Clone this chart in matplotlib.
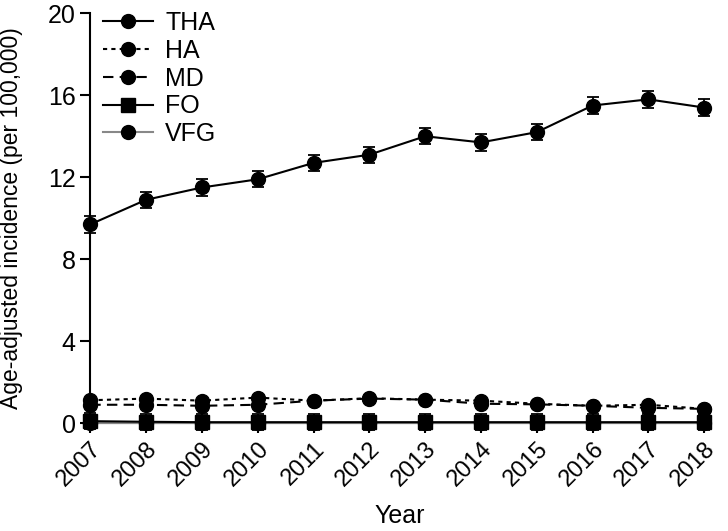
import matplotlib.pyplot as plt
from matplotlib.lines import Line2D
import numpy as np

plt.rcParams['font.family'] = ['Liberation Sans', 'DejaVu Sans']

years = [2007, 2008, 2009, 2010, 2011, 2012, 2013, 2014, 2015, 2016, 2017, 2018]
tha = [9.7, 10.9, 11.5, 11.9, 12.7, 13.1, 14.0, 13.7, 14.2, 15.5, 15.8, 15.4]
tha_err = [0.4, 0.4, 0.4, 0.4, 0.4, 0.4, 0.4, 0.4, 0.4, 0.4, 0.4, 0.4]
ha = [1.12, 1.2, 1.1, 1.25, 1.1, 1.22, 1.15, 1.1, 0.95, 0.85, 0.9, 0.7]
ha_err = [0.1] * 12
md = [0.9, 0.9, 0.85, 0.9, 1.1, 1.2, 1.15, 0.95, 0.92, 0.85, 0.75, 0.7]
md_err = [0.1] * 12
fo = [0.1, 0.07, 0.05, 0.05, 0.05, 0.05, 0.05, 0.05, 0.05, 0.05, 0.05, 0.05]
fo_err = [0.4] * 12
vfg = [0.02, 0.02, 0.02, 0.02, 0.02, 0.02, 0.02, 0.02, 0.02, 0.02, 0.02, 0.02]
vfg_err = [0.02] * 12

fig = plt.figure(figsize=(7.28, 5.31), dpi=100)
ax = fig.add_axes([0.124, 0.203, 0.851, 0.772])

common = dict(markersize=10, capsize=4, elinewidth=1.3, capthick=1.3, clip_on=False)
ax.errorbar(years, vfg, yerr=vfg_err, color='#888888', mfc='black', mec='black',
            ecolor='black', marker='o', linestyle='-', linewidth=1.5, zorder=3, **common)
ax.errorbar(years, fo, yerr=fo_err, color='black', marker='s', linestyle='-',
            linewidth=1.5, zorder=4, **common)
ax.errorbar(years, md, yerr=md_err, color='black', marker='o', linestyle=(0, (5, 3)),
            linewidth=1.5, zorder=4, **common)
ax.errorbar(years, ha, yerr=ha_err, color='black', marker='o', linestyle=(0, (2, 2)),
            linewidth=1.5, zorder=4, **common)
ax.errorbar(years, tha, yerr=tha_err, color='black', marker='o', linestyle='-',
            linewidth=1.5, zorder=5, **common)

ax.set_xlim(2007, 2018.1)
ax.set_ylim(0, 20)
ax.set_xticks(years)
ax.set_xticklabels([str(y) for y in years], rotation=45, ha='right', rotation_mode='anchor')
ax.set_yticks([0, 4, 8, 12, 16, 20])
ax.tick_params(axis='y', labelsize=18, width=1.5, length=7)
ax.tick_params(axis='x', labelsize=17, width=1.5, length=7)
ax.set_xlabel('Year', fontsize=18, labelpad=10)
ax.set_ylabel('Age-adjusted incidence (per 100,000)', fontsize=16.5)
ax.yaxis.set_label_coords(-0.108, 0.5)

ax.spines['top'].set_visible(False)
ax.spines['right'].set_visible(False)
ax.spines['left'].set_linewidth(1.5)
ax.spines['bottom'].set_linewidth(1.5)

handles = [
    Line2D([], [], color='black', marker='o', markersize=10, linewidth=1.5, linestyle='-'),
    Line2D([], [], color='black', marker='o', markersize=10, linewidth=1.5, linestyle=(0, (2, 2))),
    Line2D([], [], color='black', marker='o', markersize=10, linewidth=1.5, linestyle=(0, (5, 3))),
    Line2D([], [], color='black', marker='s', markersize=10, linewidth=1.5, linestyle='-'),
    Line2D([], [], color='#888888', mfc='black', mec='black', marker='o', markersize=10,
           linewidth=1.5, linestyle='-'),
]
labels = ['THA', 'HA', 'MD', 'FO', 'VFG']
ax.legend(handles, labels, loc='upper left', frameon=False, fontsize=18,
          handlelength=2.0, handletextpad=0.5, borderaxespad=0.0, borderpad=0.0,
          bbox_to_anchor=(0.02, 1.005), labelspacing=0.15)

fig.savefig('out.png', dpi=100)
